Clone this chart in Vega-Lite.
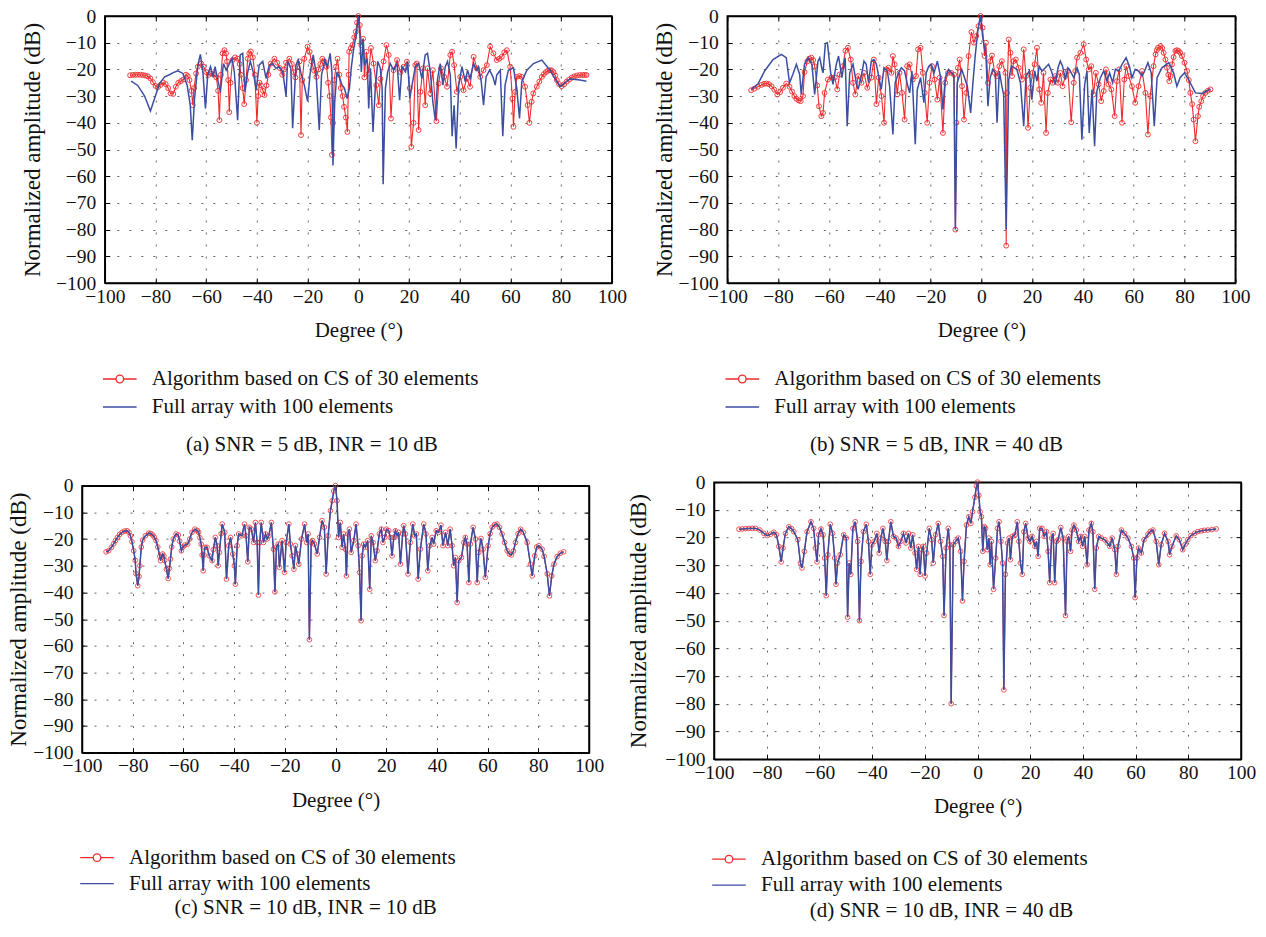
{
"$schema": "https://vega.github.io/schema/vega-lite/v6.json",
"background": "white",
"padding": {"left": 7, "top": 5, "right": 2, "bottom": 2},
"datasets": {
"aR": [{"x":-90,"y":-22.2},{"x":-89,"y":-22.1},{"x":-88,"y":-22},{"x":-87,"y":-22},{"x":-86,"y":-22},{"x":-85,"y":-22.1},{"x":-84,"y":-22.3},{"x":-83,"y":-22.6},{"x":-82,"y":-23.4},{"x":-81,"y":-24.8},{"x":-80,"y":-26.2},{"x":-79,"y":-26.6},{"x":-78,"y":-25.8},{"x":-77,"y":-24.9},{"x":-76,"y":-25.5},{"x":-75,"y":-27},{"x":-74,"y":-29},{"x":-73,"y":-29.2},{"x":-72,"y":-26.5},{"x":-71,"y":-25},{"x":-70,"y":-24.4},{"x":-69,"y":-23.8},{"x":-68,"y":-22},{"x":-67.3,"y":-22.5},{"x":-66.6,"y":-24},{"x":-65.8,"y":-28},{"x":-65.3,"y":-33.4},{"x":-64.8,"y":-27},{"x":-64,"y":-21.5},{"x":-63.3,"y":-19},{"x":-62,"y":-17.8},{"x":-61,"y":-19},{"x":-60,"y":-21},{"x":-59,"y":-22},{"x":-58,"y":-21.5},{"x":-57,"y":-22},{"x":-56,"y":-23},{"x":-55.3,"y":-28},{"x":-54.8,"y":-39},{"x":-54.2,"y":-22},{"x":-53.5,"y":-14},{"x":-52.8,"y":-12.8},{"x":-52.2,"y":-14},{"x":-51.8,"y":-17},{"x":-51.3,"y":-24},{"x":-50.9,"y":-36},{"x":-50.4,"y":-25},{"x":-49.6,"y":-16.5},{"x":-48.6,"y":-15.5},{"x":-47.6,"y":-16},{"x":-46.8,"y":-18},{"x":-46.3,"y":-22},{"x":-45.6,"y":-27},{"x":-45,"y":-33},{"x":-44.3,"y":-24},{"x":-43.6,"y":-16},{"x":-43,"y":-14},{"x":-42.4,"y":-13.3},{"x":-41.6,"y":-15.5},{"x":-40.8,"y":-22},{"x":-40,"y":-40},{"x":-39.5,"y":-30},{"x":-39,"y":-25},{"x":-38.4,"y":-26},{"x":-37.6,"y":-28},{"x":-37,"y":-29.6},{"x":-36.2,"y":-26},{"x":-35.5,"y":-22},{"x":-34.5,"y":-17.8},{"x":-33.1,"y":-16},{"x":-32,"y":-17.5},{"x":-31,"y":-19.5},{"x":-30,"y":-22},{"x":-29.3,"y":-20},{"x":-28.5,"y":-17.5},{"x":-27.2,"y":-16},{"x":-26.2,"y":-18},{"x":-25.6,"y":-21},{"x":-24.8,"y":-23},{"x":-24,"y":-19},{"x":-23.2,"y":-17},{"x":-22.6,"y":-44.6},{"x":-22.1,"y":-24},{"x":-21.3,"y":-16},{"x":-20,"y":-11.5},{"x":-19.2,"y":-13.4},{"x":-18.5,"y":-17},{"x":-17.4,"y":-20.5},{"x":-16.5,"y":-22.8},{"x":-15.7,"y":-20},{"x":-15,"y":-18},{"x":-14.2,"y":-16},{"x":-13.4,"y":-17},{"x":-12.5,"y":-19},{"x":-11.9,"y":-25},{"x":-11.3,"y":-30},{"x":-10.8,"y":-38},{"x":-10.4,"y":-52},{"x":-10,"y":-40},{"x":-9.5,"y":-24},{"x":-8.8,"y":-19},{"x":-8.2,"y":-16},{"x":-7.5,"y":-22},{"x":-6.9,"y":-27},{"x":-6.2,"y":-30},{"x":-5.6,"y":-34},{"x":-4.9,"y":-38},{"x":-4.3,"y":-43.4},{"x":-3.8,"y":-22},{"x":-3.6,"y":-13.4},{"x":-2.9,"y":-12},{"x":-2.3,"y":-10.9},{"x":-1.6,"y":-8},{"x":-1,"y":-5.9},{"x":-0.5,"y":-2.5},{"x":0,"y":0},{"x":0.6,"y":-3.4},{"x":1.2,"y":-10.9},{"x":1.9,"y":-8.5},{"x":2.4,"y":-23},{"x":3.2,"y":-13.4},{"x":4.1,"y":-21.5},{"x":5,"y":-12},{"x":6,"y":-17.8},{"x":7.1,"y":-25.9},{"x":8.1,"y":-33.4},{"x":8.7,"y":-23.5},{"x":10,"y":-17},{"x":11.1,"y":-10.9},{"x":12,"y":-14.6},{"x":12.9,"y":-38.4},{"x":13.9,"y":-20.3},{"x":15.3,"y":-16.5},{"x":16.6,"y":-21},{"x":17.9,"y":-19},{"x":19.2,"y":-17.1},{"x":20.3,"y":-27},{"x":20.9,"y":-49},{"x":21.8,"y":-40},{"x":22.5,"y":-18.4},{"x":23.1,"y":-17.8},{"x":23.8,"y":-42.7},{"x":24.5,"y":-28.4},{"x":25.5,"y":-19.6},{"x":26.4,"y":-33.4},{"x":27.3,"y":-19.6},{"x":28.4,"y":-29},{"x":29.4,"y":-20.3},{"x":30.8,"y":-39.4},{"x":31.7,"y":-25.3},{"x":32.6,"y":-19.6},{"x":33.9,"y":-22.8},{"x":35,"y":-26.5},{"x":36.3,"y":-14.6},{"x":37,"y":-13.4},{"x":37.8,"y":-18.4},{"x":38.9,"y":-28.4},{"x":40.2,"y":-22.8},{"x":41.5,"y":-27.8},{"x":42.8,"y":-23.4},{"x":44.1,"y":-26.5},{"x":45.5,"y":-15.3},{"x":46.8,"y":-19.6},{"x":48.1,"y":-22.8},{"x":49.4,"y":-20.3},{"x":50.7,"y":-18.4},{"x":52,"y":-11.5},{"x":53.3,"y":-14},{"x":54.6,"y":-16.5},{"x":55.6,"y":-16},{"x":56.6,"y":-15.3},{"x":57.6,"y":-13.6},{"x":58.6,"y":-12.8},{"x":59.9,"y":-19},{"x":60.8,"y":-30.9},{"x":61.2,"y":-41.5},{"x":61.9,"y":-28.4},{"x":62.5,"y":-22.8},{"x":63.5,"y":-22.5},{"x":64.5,"y":-22.8},{"x":65.8,"y":-26.5},{"x":66.8,"y":-33.4},{"x":67.5,"y":-40},{"x":68.4,"y":-32.1},{"x":69,"y":-29},{"x":70.4,"y":-26.5},{"x":71.4,"y":-24.6},{"x":72.4,"y":-22.8},{"x":73.2,"y":-21.8},{"x":74,"y":-21},{"x":74.8,"y":-20.5},{"x":75.6,"y":-20.3},{"x":76.3,"y":-20.4},{"x":77,"y":-21},{"x":77.7,"y":-22.3},{"x":78.3,"y":-24},{"x":79.2,"y":-25.5},{"x":80.2,"y":-26.3},{"x":81.2,"y":-25.6},{"x":82.2,"y":-24.6},{"x":83.2,"y":-23.8},{"x":84.2,"y":-23.1},{"x":85.2,"y":-22.6},{"x":86.3,"y":-22.3},{"x":87.4,"y":-22.1},{"x":88.5,"y":-22.1},{"x":89.3,"y":-22.1},{"x":90,"y":-22.1}],
"aB": [{"x":-89.6,"y":-24.4},{"x":-87,"y":-26},{"x":-84.3,"y":-30},{"x":-82,"y":-35.6},{"x":-80.4,"y":-31},{"x":-78.4,"y":-25.3},{"x":-76.4,"y":-22.8},{"x":-74.5,"y":-22},{"x":-73,"y":-21.2},{"x":-71.2,"y":-20.5},{"x":-69.2,"y":-21.5},{"x":-67.5,"y":-25.9},{"x":-66.3,"y":-33.4},{"x":-65.5,"y":-46.5},{"x":-64.6,"y":-31},{"x":-63.3,"y":-18.4},{"x":-62.3,"y":-14.4},{"x":-61.3,"y":-21},{"x":-60.3,"y":-34.6},{"x":-59.4,"y":-22},{"x":-58.3,"y":-19},{"x":-57.3,"y":-22.8},{"x":-56.5,"y":-19},{"x":-55.7,"y":-22.8},{"x":-54.4,"y":-28.4},{"x":-53.2,"y":-17.8},{"x":-52.1,"y":-20.3},{"x":-50.8,"y":-17.8},{"x":-49.8,"y":-15.9},{"x":-48.9,"y":-20.9},{"x":-47.6,"y":-39},{"x":-46.6,"y":-14.6},{"x":-45.6,"y":-14},{"x":-44.7,"y":-28.4},{"x":-43.6,"y":-20.9},{"x":-42.6,"y":-17},{"x":-41.3,"y":-21.5},{"x":-40.3,"y":-27.8},{"x":-39.1,"y":-18.4},{"x":-37.7,"y":-17},{"x":-36.4,"y":-23.4},{"x":-35.1,"y":-18.4},{"x":-33.8,"y":-17.8},{"x":-32.5,"y":-19.6},{"x":-31.2,"y":-19},{"x":-29.8,"y":-20.9},{"x":-28.5,"y":-30},{"x":-27.9,"y":-17},{"x":-26.6,"y":-19.6},{"x":-25.9,"y":-42},{"x":-24.6,"y":-18.4},{"x":-23.7,"y":-16.5},{"x":-22.6,"y":-21.5},{"x":-21.3,"y":-25.9},{"x":-20,"y":-32},{"x":-19,"y":-21.5},{"x":-17.8,"y":-14.6},{"x":-16.7,"y":-20.9},{"x":-15.4,"y":-42.7},{"x":-14.5,"y":-22.1},{"x":-13.2,"y":-16.5},{"x":-12.2,"y":-19},{"x":-11.1,"y":-14},{"x":-10.4,"y":-21},{"x":-10,"y":-56},{"x":-9.3,"y":-32.1},{"x":-8.4,"y":-20.9},{"x":-7.3,"y":-23.4},{"x":-6.4,"y":-25.9},{"x":-5.5,"y":-27},{"x":-4.4,"y":-30.9},{"x":-3.5,"y":-27},{"x":-2.8,"y":-19.6},{"x":-1.8,"y":-12},{"x":-0.8,"y":-7.1},{"x":0,"y":0},{"x":0.6,"y":-7},{"x":1.2,"y":-21},{"x":1.9,"y":-8.4},{"x":2.5,"y":-18.4},{"x":3.5,"y":-16},{"x":4.1,"y":-34.6},{"x":4.8,"y":-19.6},{"x":5.8,"y":-43.4},{"x":6.7,"y":-27},{"x":7.7,"y":-17},{"x":8.7,"y":-19.6},{"x":9.4,"y":-27},{"x":9.8,"y":-63},{"x":10.7,"y":-27},{"x":11.6,"y":-20.9},{"x":12.6,"y":-17.8},{"x":13.9,"y":-20.3},{"x":15.3,"y":-17.8},{"x":16.3,"y":-31.5},{"x":17.2,"y":-19},{"x":18.6,"y":-20.9},{"x":19.5,"y":-17},{"x":20.3,"y":-30.9},{"x":21.2,"y":-25.9},{"x":22.5,"y":-19},{"x":23.8,"y":-17.8},{"x":25.1,"y":-23.4},{"x":26.4,"y":-14.6},{"x":27.3,"y":-14},{"x":28.4,"y":-20.9},{"x":29.4,"y":-32.1},{"x":30.4,"y":-39},{"x":31.3,"y":-23.4},{"x":32.3,"y":-17.8},{"x":33.4,"y":-25.9},{"x":34.3,"y":-19},{"x":35.2,"y":-17},{"x":36.3,"y":-22.1},{"x":37,"y":-45},{"x":37.8,"y":-33.4},{"x":38.6,"y":-49.6},{"x":39.6,"y":-25.9},{"x":40.9,"y":-19},{"x":42.2,"y":-24.6},{"x":43.1,"y":-20.3},{"x":44.1,"y":-23.4},{"x":45.5,"y":-17.8},{"x":46.5,"y":-20.3},{"x":47.4,"y":-19},{"x":48.5,"y":-24.6},{"x":49.4,"y":-33.4},{"x":50.4,"y":-22.8},{"x":51.8,"y":-20.3},{"x":53.1,"y":-22.8},{"x":54,"y":-25.9},{"x":54.6,"y":-22.1},{"x":56,"y":-20.3},{"x":57,"y":-45},{"x":57.9,"y":-25.9},{"x":59.2,"y":-20.3},{"x":61.2,"y":-19.4},{"x":62.5,"y":-27},{"x":63.6,"y":-38.4},{"x":64.5,"y":-24.6},{"x":66.5,"y":-20.3},{"x":69.1,"y":-17.8},{"x":72.4,"y":-16.5},{"x":75.6,"y":-20.3},{"x":78.3,"y":-24.6},{"x":79.6,"y":-26.5},{"x":81.5,"y":-25},{"x":83.5,"y":-23.6},{"x":87.5,"y":-24},{"x":90,"y":-24.4}],
"bR": [{"x":-90.6,"y":-27.8},{"x":-89.3,"y":-27.2},{"x":-88,"y":-26.5},{"x":-86.5,"y":-25.8},{"x":-85.5,"y":-25.4},{"x":-84.6,"y":-25.3},{"x":-83.6,"y":-25.5},{"x":-82.6,"y":-26.3},{"x":-81.5,"y":-27.6},{"x":-80.3,"y":-29.4},{"x":-79.2,"y":-28.5},{"x":-78.1,"y":-26.9},{"x":-76.8,"y":-25.3},{"x":-75.5,"y":-26.5},{"x":-74.5,"y":-28.3},{"x":-73.6,"y":-30},{"x":-72.8,"y":-31},{"x":-71.9,"y":-31.6},{"x":-71.1,"y":-31.9},{"x":-70.2,"y":-30},{"x":-69.6,"y":-21},{"x":-68.5,"y":-17},{"x":-67.7,"y":-16},{"x":-66.9,"y":-15.6},{"x":-66.2,"y":-16.5},{"x":-65.6,"y":-18.8},{"x":-64.6,"y":-26},{"x":-63.9,"y":-33.8},{"x":-63,"y":-37.5},{"x":-62.3,"y":-36.3},{"x":-61.7,"y":-28.8},{"x":-60.4,"y":-23.8},{"x":-59,"y":-23},{"x":-57.7,"y":-23},{"x":-56.7,"y":-27.5},{"x":-55.8,"y":-21.9},{"x":-54.5,"y":-18.8},{"x":-53.5,"y":-13},{"x":-52.5,"y":-11.9},{"x":-51.4,"y":-16.3},{"x":-50.5,"y":-25},{"x":-49.6,"y":-29.4},{"x":-48.5,"y":-22.5},{"x":-47.2,"y":-25},{"x":-46.2,"y":-21.3},{"x":-44.9,"y":-26.9},{"x":-43.3,"y":-23.1},{"x":-42.3,"y":-16.3},{"x":-41.3,"y":-33},{"x":-40.4,"y":-23.1},{"x":-39.3,"y":-30},{"x":-38.3,"y":-40},{"x":-37.4,"y":-20},{"x":-36.5,"y":-19.4},{"x":-35.4,"y":-21.3},{"x":-34.8,"y":-15},{"x":-34.1,"y":-18.1},{"x":-33.1,"y":-29.4},{"x":-32.2,"y":-21.3},{"x":-31.2,"y":-28.8},{"x":-30.2,"y":-38.8},{"x":-29.2,"y":-18.8},{"x":-28.2,"y":-18.1},{"x":-27,"y":-23.8},{"x":-25.7,"y":-22.5},{"x":-24.9,"y":-12.5},{"x":-23.9,"y":-11.9},{"x":-23,"y":-21.3},{"x":-22.3,"y":-28.8},{"x":-21.3,"y":-40},{"x":-20.4,"y":-25},{"x":-19.4,"y":-18.8},{"x":-18.4,"y":-23.8},{"x":-17.3,"y":-31.3},{"x":-16.4,"y":-23.1},{"x":-15.1,"y":-43.8},{"x":-14.2,"y":-25},{"x":-13.1,"y":-21.3},{"x":-11.8,"y":-21.3},{"x":-10.7,"y":-22},{"x":-10.2,"y":-80},{"x":-9.8,"y":-40},{"x":-9.2,"y":-19.4},{"x":-8.5,"y":-16.3},{"x":-7.6,"y":-26.3},{"x":-6.8,"y":-38.8},{"x":-5.9,"y":-28.8},{"x":-5,"y":-15},{"x":-3.9,"y":-6},{"x":-2.9,"y":-10},{"x":-2,"y":-7.5},{"x":-1.1,"y":-3.8},{"x":-0.3,"y":0},{"x":0.5,"y":-4.4},{"x":1.3,"y":-15},{"x":1.8,"y":-10},{"x":2.6,"y":-25},{"x":3.5,"y":-16.9},{"x":4.2,"y":-14.8},{"x":5.3,"y":-21.3},{"x":6.2,"y":-22.5},{"x":7.1,"y":-18.8},{"x":8.1,"y":-16.9},{"x":9.5,"y":-21.3},{"x":9.8,"y":-86},{"x":10.1,"y":-28.8},{"x":10.8,"y":-8.8},{"x":11.5,"y":-13.8},{"x":12.1,"y":-22.5},{"x":12.7,"y":-16.9},{"x":13.6,"y":-16.3},{"x":14.7,"y":-19.4},{"x":16,"y":-23.8},{"x":16.7,"y":-12.5},{"x":17.6,"y":-22.5},{"x":18.4,"y":-41.9},{"x":19.3,"y":-26.9},{"x":20.2,"y":-21.3},{"x":21,"y":-18.1},{"x":21.9,"y":-11.9},{"x":22.8,"y":-27.5},{"x":23.6,"y":-32.5},{"x":24.5,"y":-21.3},{"x":25.5,"y":-43.8},{"x":26.2,"y":-28.8},{"x":27.2,"y":-23.8},{"x":28.1,"y":-25},{"x":29.1,"y":-22.5},{"x":30.2,"y":-25},{"x":31.1,"y":-21.3},{"x":32,"y":-26.3},{"x":33.1,"y":-22.5},{"x":34.1,"y":-20.6},{"x":35.4,"y":-39.8},{"x":36.4,"y":-25},{"x":37,"y":-20.6},{"x":37.7,"y":-15.6},{"x":39,"y":-13.8},{"x":40.3,"y":-10.6},{"x":41.3,"y":-16.3},{"x":42.3,"y":-20},{"x":43.3,"y":-18.8},{"x":44.2,"y":-29.4},{"x":45.1,"y":-21.3},{"x":46.2,"y":-25.6},{"x":47.2,"y":-31.9},{"x":48.2,"y":-28.1},{"x":49.1,"y":-20},{"x":50.1,"y":-25.6},{"x":51.2,"y":-27.5},{"x":52.5,"y":-37.5},{"x":53.4,"y":-24.4},{"x":54.3,"y":-20},{"x":55.4,"y":-40},{"x":56.3,"y":-23.8},{"x":57.1,"y":-18.8},{"x":58,"y":-22.5},{"x":59.3,"y":-26.3},{"x":60.6,"y":-32.5},{"x":61.9,"y":-26.3},{"x":63.3,"y":-20.6},{"x":64.6,"y":-28.8},{"x":65.6,"y":-44.4},{"x":66.5,"y":-30},{"x":67.8,"y":-18.8},{"x":68.6,"y":-14.4},{"x":69.1,"y":-12.8},{"x":69.6,"y":-11.9},{"x":70.5,"y":-11.3},{"x":71.2,"y":-12},{"x":71.8,"y":-13.8},{"x":72.5,"y":-16.3},{"x":73.1,"y":-19.4},{"x":73.6,"y":-22},{"x":74,"y":-24.4},{"x":74.5,"y":-22.5},{"x":75.1,"y":-18.1},{"x":75.7,"y":-15.4},{"x":76.4,"y":-13.1},{"x":77,"y":-12.8},{"x":77.7,"y":-13.1},{"x":78.3,"y":-13.8},{"x":79,"y":-15},{"x":80,"y":-17.5},{"x":81,"y":-20.6},{"x":81.7,"y":-24},{"x":82.3,"y":-28.8},{"x":83,"y":-33},{"x":83.6,"y":-38.8},{"x":84.3,"y":-46.9},{"x":85.3,"y":-37.5},{"x":85.8,"y":-34},{"x":86.6,"y":-31.9},{"x":87.3,"y":-30},{"x":88.2,"y":-28.8},{"x":89.2,"y":-28},{"x":90.2,"y":-27.5}],
"bB": [{"x":-90.6,"y":-27.5},{"x":-88,"y":-25.6},{"x":-85.3,"y":-20.6},{"x":-82,"y":-16.3},{"x":-78.7,"y":-14.4},{"x":-76.8,"y":-15.6},{"x":-75.5,"y":-25},{"x":-74.2,"y":-21.9},{"x":-72.8,"y":-18.1},{"x":-71.5,"y":-21.9},{"x":-70.9,"y":-29.4},{"x":-69.6,"y":-18.1},{"x":-68.2,"y":-15.6},{"x":-66.7,"y":-18.1},{"x":-65.6,"y":-29.4},{"x":-64.3,"y":-16.9},{"x":-63.6,"y":-15.6},{"x":-62.7,"y":-20},{"x":-62.3,"y":-21.3},{"x":-61.4,"y":-10.3},{"x":-60.6,"y":-10},{"x":-59.3,"y":-21.3},{"x":-58.4,"y":-25.6},{"x":-57.1,"y":-18.1},{"x":-56.2,"y":-15},{"x":-54.9,"y":-23.1},{"x":-53.6,"y":-15.6},{"x":-52.8,"y":-41.3},{"x":-51.8,"y":-21.3},{"x":-50.5,"y":-18.1},{"x":-49.2,"y":-25},{"x":-48.5,"y":-27.5},{"x":-47.2,"y":-22.5},{"x":-46.2,"y":-16.9},{"x":-45.3,"y":-18.1},{"x":-44.4,"y":-25},{"x":-43.3,"y":-16.9},{"x":-42.3,"y":-16.3},{"x":-41.3,"y":-18.1},{"x":-40.3,"y":-23.1},{"x":-39.4,"y":-27.5},{"x":-38.3,"y":-19.4},{"x":-37,"y":-20.6},{"x":-36.1,"y":-26.3},{"x":-34.8,"y":-44.4},{"x":-33.9,"y":-25},{"x":-32.8,"y":-21.9},{"x":-31.5,"y":-19.4},{"x":-30.2,"y":-20.6},{"x":-29.1,"y":-25.6},{"x":-28.2,"y":-28.8},{"x":-27.3,"y":-20.6},{"x":-26,"y":-48},{"x":-25.2,"y":-27.5},{"x":-23.9,"y":-23.1},{"x":-22.6,"y":-32.5},{"x":-21.7,"y":-21.3},{"x":-20.7,"y":-18.8},{"x":-19.7,"y":-18.1},{"x":-18.6,"y":-21.3},{"x":-17.3,"y":-16.9},{"x":-16,"y":-23.1},{"x":-15.1,"y":-35},{"x":-14.2,"y":-23.1},{"x":-12.9,"y":-20},{"x":-11.6,"y":-21.3},{"x":-10.8,"y":-22.5},{"x":-10.2,"y":-80},{"x":-9.5,"y":-25},{"x":-8.6,"y":-22.5},{"x":-7.7,"y":-20},{"x":-6.6,"y":-23.1},{"x":-5.5,"y":-26.3},{"x":-4.2,"y":-36.3},{"x":-3.3,"y":-25},{"x":-2.4,"y":-15},{"x":-1.3,"y":-5},{"x":-0.3,"y":0},{"x":0.5,"y":-7.5},{"x":1.3,"y":-12.5},{"x":1.8,"y":-13.8},{"x":2.6,"y":-33.8},{"x":3.5,"y":-23.1},{"x":4.5,"y":-20},{"x":5.5,"y":-21.3},{"x":6.2,"y":-40},{"x":7.1,"y":-20.6},{"x":8.1,"y":-26.3},{"x":8.8,"y":-29.4},{"x":9.8,"y":-80},{"x":10.8,"y":-23.8},{"x":11.8,"y":-18.8},{"x":13.1,"y":-19.4},{"x":14,"y":-20},{"x":15.4,"y":-25},{"x":16.7,"y":-41.3},{"x":17.6,"y":-22.5},{"x":18.9,"y":-20.6},{"x":19.9,"y":-31.3},{"x":21,"y":-20.6},{"x":21.9,"y":-24.4},{"x":22.8,"y":-18.8},{"x":23.9,"y":-20.6},{"x":25.2,"y":-19.4},{"x":26.5,"y":-18.1},{"x":27.6,"y":-20.6},{"x":29.1,"y":-25.6},{"x":30.2,"y":-19.4},{"x":31.1,"y":-16.9},{"x":32,"y":-18.8},{"x":33.1,"y":-23.8},{"x":34.1,"y":-19.4},{"x":35,"y":-20.6},{"x":36.4,"y":-23.1},{"x":37.7,"y":-19.4},{"x":38.6,"y":-21.9},{"x":39.6,"y":-46.3},{"x":40.7,"y":-25.6},{"x":41.6,"y":-20.6},{"x":42.5,"y":-43.8},{"x":43.6,"y":-27.5},{"x":44.6,"y":-48.8},{"x":45.5,"y":-28.1},{"x":46.9,"y":-23.1},{"x":48.2,"y":-20.6},{"x":49.5,"y":-24.4},{"x":50.5,"y":-21.3},{"x":51.7,"y":-25},{"x":52.8,"y":-20},{"x":54.1,"y":-20.6},{"x":55.4,"y":-18.1},{"x":57,"y":-15.6},{"x":58.3,"y":-18.8},{"x":59.3,"y":-23.1},{"x":60.6,"y":-20},{"x":61.9,"y":-20.6},{"x":63.3,"y":-22.5},{"x":64.3,"y":-20.6},{"x":65.6,"y":-17.5},{"x":66.9,"y":-21.3},{"x":68.1,"y":-41.3},{"x":69.2,"y":-23.1},{"x":71.1,"y":-19.4},{"x":73.8,"y":-17.5},{"x":75.7,"y":-21.3},{"x":77,"y":-26.3},{"x":78.3,"y":-23.1},{"x":80,"y":-21.3},{"x":81.6,"y":-23.8},{"x":84.3,"y":-28.8},{"x":86.9,"y":-29},{"x":90.2,"y":-27.3}],
"c": [{"x":-90.5,"y":-24.8},{"x":-89.5,"y":-24.4},{"x":-88.4,"y":-23.1},{"x":-87.5,"y":-21.8},{"x":-86.8,"y":-20.6},{"x":-86,"y":-19.4},{"x":-85.2,"y":-18.3},{"x":-84.2,"y":-17.5},{"x":-83.2,"y":-17},{"x":-82.2,"y":-16.9},{"x":-81.5,"y":-17.5},{"x":-80.9,"y":-18.8},{"x":-80.3,"y":-21},{"x":-79.6,"y":-24.4},{"x":-79,"y":-28},{"x":-78.7,"y":-33},{"x":-78,"y":-37.5},{"x":-77.5,"y":-34},{"x":-77.2,"y":-30},{"x":-76.6,"y":-23},{"x":-76.1,"y":-20.4},{"x":-75,"y":-18.8},{"x":-73.7,"y":-17.8},{"x":-72.9,"y":-17.9},{"x":-72.1,"y":-18.5},{"x":-71.5,"y":-19.3},{"x":-70.8,"y":-20.6},{"x":-70.1,"y":-23},{"x":-69.3,"y":-26.5},{"x":-69,"y":-28.1},{"x":-68.2,"y":-25.6},{"x":-67.7,"y":-26.4},{"x":-67.4,"y":-28},{"x":-66.7,"y":-31.3},{"x":-66,"y":-34.8},{"x":-65.5,"y":-31},{"x":-65.1,"y":-27.5},{"x":-64.6,"y":-23},{"x":-64,"y":-20},{"x":-62.9,"y":-18.1},{"x":-62,"y":-18.5},{"x":-61.5,"y":-20.8},{"x":-60.8,"y":-24.4},{"x":-60.2,"y":-23},{"x":-59.5,"y":-22.3},{"x":-58.3,"y":-21.9},{"x":-57.5,"y":-20},{"x":-56.6,"y":-17.5},{"x":-55.5,"y":-16.3},{"x":-54.5,"y":-16.8},{"x":-54,"y":-17.5},{"x":-53.5,"y":-19.5},{"x":-53,"y":-21.9},{"x":-52.6,"y":-26},{"x":-52.2,"y":-31.9},{"x":-51.9,"y":-26},{"x":-51.5,"y":-23.1},{"x":-50.7,"y":-23.1},{"x":-49.8,"y":-26.3},{"x":-48.7,"y":-28.1},{"x":-48.2,"y":-24},{"x":-47.4,"y":-19.4},{"x":-46.7,"y":-22.5},{"x":-46.3,"y":-30},{"x":-45.8,"y":-25},{"x":-45.1,"y":-18},{"x":-44.7,"y":-14.4},{"x":-43.7,"y":-17.5},{"x":-43,"y":-35},{"x":-42.1,"y":-22.5},{"x":-41.4,"y":-19.4},{"x":-40.5,"y":-25.6},{"x":-39.9,"y":-30},{"x":-39.5,"y":-36.9},{"x":-38.8,"y":-22.5},{"x":-38.2,"y":-18.1},{"x":-36.9,"y":-18.8},{"x":-35.9,"y":-14.4},{"x":-35.3,"y":-18.8},{"x":-34.6,"y":-28.5},{"x":-34,"y":-15.6},{"x":-33.2,"y":-16.3},{"x":-32.3,"y":-21.3},{"x":-31.6,"y":-13.8},{"x":-30.9,"y":-21.3},{"x":-30.4,"y":-41},{"x":-29.9,"y":-21.3},{"x":-29.3,"y":-13.8},{"x":-28.4,"y":-21.3},{"x":-27.6,"y":-18.1},{"x":-27,"y":-20},{"x":-26.3,"y":-18.8},{"x":-25.3,"y":-13.8},{"x":-24.5,"y":-23.8},{"x":-23.9,"y":-39.8},{"x":-23.3,"y":-23.1},{"x":-22.6,"y":-21.9},{"x":-22.1,"y":-30.6},{"x":-21.1,"y":-20.6},{"x":-20.1,"y":-32.5},{"x":-19.5,"y":-21.3},{"x":-18.4,"y":-14.4},{"x":-17.8,"y":-21.9},{"x":-17.1,"y":-26.3},{"x":-16.4,"y":-31.3},{"x":-15.8,"y":-22.5},{"x":-15.1,"y":-25.6},{"x":-14.5,"y":-29.4},{"x":-13.4,"y":-20},{"x":-12.2,"y":-14.4},{"x":-11.4,"y":-21.3},{"x":-10.8,"y":-18.1},{"x":-10.3,"y":-57.7},{"x":-9.6,"y":-21.3},{"x":-9,"y":-20.6},{"x":-8.3,"y":-21.9},{"x":-7.2,"y":-25.6},{"x":-6.3,"y":-19.4},{"x":-5.3,"y":-13.1},{"x":-4.4,"y":-15.6},{"x":-3.7,"y":-33.1},{"x":-2.9,"y":-18.8},{"x":-2,"y":-9.4},{"x":-1.3,"y":-5.6},{"x":-0.7,"y":-2},{"x":0,"y":0},{"x":0.6,"y":-5.6},{"x":1.2,"y":-19.4},{"x":1.9,"y":-13.8},{"x":2.6,"y":-23.1},{"x":3.2,"y":-18.1},{"x":3.9,"y":-23.8},{"x":4.3,"y":-33.8},{"x":4.9,"y":-18.1},{"x":5.5,"y":-16.3},{"x":6.2,"y":-25},{"x":7.2,"y":-20.6},{"x":8.1,"y":-14.4},{"x":8.9,"y":-22.5},{"x":9.5,"y":-32.5},{"x":10.1,"y":-50.6},{"x":10.5,"y":-26.3},{"x":11.1,"y":-21.9},{"x":11.8,"y":-23.1},{"x":12.7,"y":-20.6},{"x":13.5,"y":-38.8},{"x":14.1,"y":-18.8},{"x":14.8,"y":-21.3},{"x":15.7,"y":-28.1},{"x":16.4,"y":-24.4},{"x":17.3,"y":-18.1},{"x":18.1,"y":-16.3},{"x":18.7,"y":-21.3},{"x":19.4,"y":-19.4},{"x":20.1,"y":-16.3},{"x":21,"y":-16.9},{"x":21.6,"y":-19.4},{"x":22.3,"y":-26.3},{"x":23,"y":-19.4},{"x":23.6,"y":-16.9},{"x":24.3,"y":-18.8},{"x":24.9,"y":-17.5},{"x":25.6,"y":-29.4},{"x":26.5,"y":-18.1},{"x":26.9,"y":-15},{"x":27.6,"y":-18.1},{"x":28.6,"y":-33.1},{"x":29.5,"y":-21.3},{"x":30.5,"y":-14.4},{"x":31.2,"y":-18.8},{"x":31.9,"y":-18.1},{"x":32.6,"y":-35},{"x":33.5,"y":-23.8},{"x":34.8,"y":-14.4},{"x":35.7,"y":-18.1},{"x":36.4,"y":-31.9},{"x":37.2,"y":-22.5},{"x":38.1,"y":-19.4},{"x":38.7,"y":-21.9},{"x":39.7,"y":-16.9},{"x":40.7,"y":-17.5},{"x":41.6,"y":-14.8},{"x":42.4,"y":-22.5},{"x":43.4,"y":-17.5},{"x":44.3,"y":-22.5},{"x":45.2,"y":-16.3},{"x":46,"y":-22.5},{"x":46.6,"y":-30},{"x":47.3,"y":-26.9},{"x":48,"y":-43.8},{"x":48.6,"y":-28.1},{"x":49.7,"y":-26.9},{"x":50.6,"y":-21.3},{"x":51.2,"y":-19.4},{"x":51.9,"y":-21.9},{"x":52.6,"y":-36.3},{"x":53.2,"y":-21.9},{"x":54.3,"y":-15.6},{"x":55.2,"y":-20},{"x":55.9,"y":-36.3},{"x":56.5,"y":-25},{"x":57.4,"y":-19.8},{"x":58.2,"y":-23.8},{"x":59.1,"y":-34.4},{"x":60.2,"y":-22.5},{"x":61,"y":-18},{"x":61.8,"y":-15.6},{"x":62.8,"y":-14.6},{"x":63.7,"y":-14.4},{"x":64.7,"y":-15.6},{"x":65.7,"y":-18.1},{"x":66.7,"y":-21.3},{"x":67.7,"y":-24.4},{"x":68.6,"y":-25.6},{"x":69.4,"y":-26},{"x":70.2,"y":-24.5},{"x":71,"y":-21.3},{"x":72,"y":-18},{"x":73,"y":-16.3},{"x":74.1,"y":-17.5},{"x":75.6,"y":-21.3},{"x":76.9,"y":-29.4},{"x":77.6,"y":-33.8},{"x":78.6,"y":-26.3},{"x":79.4,"y":-23},{"x":80.2,"y":-22.5},{"x":81.5,"y":-23.8},{"x":82.3,"y":-26.5},{"x":83.5,"y":-33},{"x":84.4,"y":-41.3},{"x":85.3,"y":-33.8},{"x":86.2,"y":-29.4},{"x":87.4,"y":-26.6},{"x":88.7,"y":-25.3},{"x":90,"y":-24.8}],
"d": [{"x":-90.5,"y":-17},{"x":-89.3,"y":-16.9},{"x":-88,"y":-16.8},{"x":-86.8,"y":-16.7},{"x":-85.5,"y":-16.7},{"x":-84.2,"y":-16.7},{"x":-82.6,"y":-17.3},{"x":-81.1,"y":-18.5},{"x":-79.8,"y":-19.3},{"x":-78.5,"y":-18.8},{"x":-77.3,"y":-18.1},{"x":-76.3,"y":-19},{"x":-75.4,"y":-23.2},{"x":-74.5,"y":-28.8},{"x":-73.8,"y":-23.8},{"x":-72.9,"y":-18.5},{"x":-71.6,"y":-16.1},{"x":-70.6,"y":-16.8},{"x":-69.7,"y":-17.9},{"x":-68.2,"y":-20.8},{"x":-67.2,"y":-29.2},{"x":-66.6,"y":-31},{"x":-65.7,"y":-25},{"x":-64.7,"y":-17.9},{"x":-63.2,"y":-14.3},{"x":-62.2,"y":-16.7},{"x":-61.5,"y":-23.8},{"x":-60.9,"y":-28.8},{"x":-60.3,"y":-19},{"x":-59.4,"y":-16.9},{"x":-58.6,"y":-19},{"x":-58,"y":-27.4},{"x":-57.4,"y":-41},{"x":-56.8,"y":-26.2},{"x":-55.9,"y":-15.2},{"x":-55,"y":-18.5},{"x":-54.2,"y":-27.4},{"x":-53.7,"y":-36.9},{"x":-53.1,"y":-29.2},{"x":-52.1,"y":-26.2},{"x":-50.8,"y":-19},{"x":-49.8,"y":-20.2},{"x":-49.3,"y":-48.8},{"x":-48.7,"y":-29.2},{"x":-48.1,"y":-33.3},{"x":-47.3,"y":-16.7},{"x":-46.4,"y":-14.3},{"x":-45.5,"y":-21.4},{"x":-44.8,"y":-50},{"x":-44.2,"y":-28.6},{"x":-43.3,"y":-17.9},{"x":-42.2,"y":-15.2},{"x":-41.4,"y":-21.4},{"x":-40.7,"y":-33.3},{"x":-40.1,"y":-22.6},{"x":-39.2,"y":-21.4},{"x":-38.2,"y":-18.5},{"x":-37.3,"y":-25.6},{"x":-36.7,"y":-20.2},{"x":-35.9,"y":-16.7},{"x":-35,"y":-21.4},{"x":-34.4,"y":-28.3},{"x":-33.8,"y":-21.4},{"x":-32.9,"y":-14.3},{"x":-31.9,"y":-19.6},{"x":-30.9,"y":-20.2},{"x":-30,"y":-23.2},{"x":-29.1,"y":-21.4},{"x":-28.1,"y":-18.5},{"x":-27.1,"y":-22},{"x":-26.2,"y":-18.5},{"x":-25.3,"y":-23.8},{"x":-24.6,"y":-19},{"x":-23.7,"y":-25.6},{"x":-23.1,"y":-31.5},{"x":-22.4,"y":-23.2},{"x":-21.8,"y":-33.3},{"x":-21.2,"y":-24.4},{"x":-20.6,"y":-23.2},{"x":-19.9,"y":-33.9},{"x":-19.3,"y":-25.6},{"x":-18.3,"y":-16.7},{"x":-17.4,"y":-20.8},{"x":-16.8,"y":-29.2},{"x":-15.9,"y":-19},{"x":-14.9,"y":-14.9},{"x":-14,"y":-21.4},{"x":-13.2,"y":-26.8},{"x":-12.7,"y":-48.2},{"x":-11.9,"y":-23.8},{"x":-11.1,"y":-16.7},{"x":-10.5,"y":-22.6},{"x":-10,"y":-80},{"x":-9.2,"y":-22.6},{"x":-8.3,"y":-21.4},{"x":-7.3,"y":-20.2},{"x":-6.4,"y":-25},{"x":-5.7,"y":-42.9},{"x":-5.1,"y":-28.6},{"x":-4.2,"y":-15.5},{"x":-3.3,"y":-12.5},{"x":-2.5,"y":-14.9},{"x":-1.9,"y":-10.7},{"x":-1,"y":-5.5},{"x":-0.4,"y":-1.5},{"x":0,"y":0},{"x":0.5,"y":-4.8},{"x":1,"y":-10.7},{"x":1.5,"y":-12.5},{"x":2,"y":-25},{"x":2.6,"y":-16.1},{"x":3.1,"y":-16.7},{"x":3.7,"y":-24.4},{"x":4.3,"y":-20.2},{"x":4.8,"y":-29.8},{"x":5.3,"y":-21.4},{"x":6.1,"y":-38.7},{"x":6.9,"y":-27.4},{"x":7.6,"y":-16.7},{"x":8.2,"y":-14.3},{"x":8.9,"y":-21.4},{"x":9.5,"y":-29.2},{"x":10,"y":-75},{"x":10.6,"y":-33.3},{"x":11.4,"y":-22},{"x":12,"y":-20.2},{"x":12.5,"y":-28},{"x":13.2,"y":-19.6},{"x":14.2,"y":-19},{"x":15.1,"y":-14.3},{"x":15.7,"y":-21.4},{"x":16.3,"y":-29.2},{"x":17,"y":-33.3},{"x":17.6,"y":-17.9},{"x":18.3,"y":-14.9},{"x":19.2,"y":-20.2},{"x":19.9,"y":-21.4},{"x":20.7,"y":-19.6},{"x":21.8,"y":-23.2},{"x":22.4,"y":-21.4},{"x":23,"y":-26.8},{"x":23.6,"y":-16.7},{"x":24.5,"y":-16.7},{"x":25.3,"y":-19.6},{"x":26.2,"y":-17.9},{"x":26.8,"y":-25},{"x":27.4,"y":-36.3},{"x":28.1,"y":-20.2},{"x":28.7,"y":-18.5},{"x":29.3,"y":-36.3},{"x":30,"y":-21.4},{"x":30.6,"y":-20.8},{"x":31.6,"y":-16.4},{"x":32.5,"y":-20.2},{"x":33.4,"y":-48.2},{"x":34,"y":-21.4},{"x":34.6,"y":-19.6},{"x":35.3,"y":-25},{"x":35.9,"y":-17.3},{"x":36.6,"y":-15.5},{"x":37.5,"y":-17.3},{"x":38.4,"y":-21.4},{"x":39.2,"y":-19.6},{"x":39.9,"y":-23.2},{"x":40.7,"y":-19.6},{"x":41.6,"y":-29.8},{"x":42.3,"y":-17.3},{"x":43.2,"y":-14.9},{"x":43.8,"y":-17.9},{"x":44.5,"y":-38.7},{"x":45.1,"y":-23.8},{"x":46,"y":-19.6},{"x":47,"y":-20.2},{"x":48.3,"y":-20.8},{"x":49.3,"y":-22},{"x":50.2,"y":-23.2},{"x":51.1,"y":-20.2},{"x":52.1,"y":-24.4},{"x":52.7,"y":-33.3},{"x":53.3,"y":-23.2},{"x":54.6,"y":-17.3},{"x":55.8,"y":-18.5},{"x":57.1,"y":-20.2},{"x":58.4,"y":-23.2},{"x":59.3,"y":-27.4},{"x":59.8,"y":-41.7},{"x":60.5,"y":-27.4},{"x":61.1,"y":-23.8},{"x":62.2,"y":-25.6},{"x":63.2,"y":-20.8},{"x":64.7,"y":-18.8},{"x":65.6,"y":-17.8},{"x":66.6,"y":-17.3},{"x":67.8,"y":-21.4},{"x":68.8,"y":-29.8},{"x":69.7,"y":-22.6},{"x":71,"y":-18.5},{"x":72.3,"y":-21.4},{"x":72.9,"y":-26.2},{"x":73.8,"y":-23.2},{"x":75.4,"y":-19.4},{"x":76.6,"y":-20.8},{"x":77.9,"y":-24.4},{"x":78.8,"y":-22.5},{"x":79.8,"y":-20.8},{"x":81,"y":-19.3},{"x":82.4,"y":-18.5},{"x":83.6,"y":-17.9},{"x":84.9,"y":-17.6},{"x":86.1,"y":-17.4},{"x":87.4,"y":-17.3},{"x":89,"y":-17.1},{"x":90.6,"y":-16.9}]
},
"vconcat": [
{"hconcat": [
{"width": 1, "height": 1, "data": {"values": []}, "mark": "point", "view": {"stroke": null}},
{"hconcat": [
{"width": 507, "height": 267,
 "title": {"text": "(a)  SNR = 5 dB, INR = 10 dB", "orient": "bottom", "anchor": "middle", "frame": "bounds", "offset": 17, "dx": -12},
 "layer": [
  {"data": {"name": "aR"}, "mark": {"type": "line", "strokeWidth": 1.1},
   "encoding": {
    "x": {"field": "x", "type": "quantitative", "scale": {"domain": [-100, 100], "nice": false}, "axis": {"values": [-100,-80,-60,-40,-20,0,20,40,60,80,100], "grid": true, "title": "Degree (°)", "labelPadding": 9, "titlePadding": 14, "labelFlush": false, "labelOverlap": false}},
    "y": {"field": "y", "type": "quantitative", "scale": {"domain": [-100, 0], "nice": false}, "axis": {"values": [0,-10,-20,-30,-40,-50,-60,-70,-80,-90,-100], "grid": true, "title": "Normalized amplitude (dB)", "titleFontSize": 23, "labelPadding": 14, "titlePadding": 11.3, "labelOverlap": false}},
    "color": {"datum": "Algorithm based on CS of 30 elements", "scale": {"domain": ["Algorithm based on CS of 30 elements", "Full array with 100 elements"], "range": ["#ee2a2c", "#3b4ea2"]},
     "legend": {"title": null, "orient": "bottom", "direction": "vertical", "offset": 23, "labelLimit": 600, "labelFontSize": 21, "labelFont": "Liberation Serif", "labelColor": "#111", "symbolSize": 784, "rowPadding": 3, "labelOffset": 17, "padding": 0,
      "encode": {"symbols": {"update": {"shape": {"signal": "datum.value === 'Full array with 100 elements' ? 'M-1.2,0H1.2' : 'M-1.2,0H-0.27M0.27,0H1.2M0.27,0A0.27,0.27,0,1,1,-0.27,0A0.27,0.27,0,1,1,0.27,0'"}, "fill": {"value": "white"}, "strokeWidth": {"value": 1.3}}}}}}}},
  {"data": {"name": "aR"}, "mark": {"type": "point", "filled": false, "size": 24, "strokeWidth": 1, "opacity": 0.9},
   "encoding": {"x": {"field": "x", "type": "quantitative", "axis": null}, "y": {"field": "y", "type": "quantitative", "axis": null}, "color": {"datum": "Algorithm based on CS of 30 elements"}}},
  {"data": {"name": "aB"}, "mark": {"type": "line", "strokeWidth": 1.5},
   "encoding": {"x": {"field": "x", "type": "quantitative", "axis": {"orient": "top", "values": [-100,-80,-60,-40,-20,0,20,40,60,80,100], "labels": false, "title": null, "grid": false}}, "y": {"field": "y", "type": "quantitative", "axis": {"orient": "right", "values": [0,-10,-20,-30,-40,-50,-60,-70,-80,-90,-100], "labels": false, "title": null, "grid": false}}, "color": {"datum": "Full array with 100 elements"}}}
 ],
 "resolve": {"axis": {"x": "independent", "y": "independent"}}},
{"width": 508, "height": 267,
 "title": {"text": "(b)  SNR = 5 dB, INR = 40 dB", "orient": "bottom", "anchor": "middle", "frame": "bounds", "offset": 17, "dx": -15},
 "layer": [
  {"data": {"name": "bR"}, "mark": {"type": "line", "strokeWidth": 1.1},
   "encoding": {
    "x": {"field": "x", "type": "quantitative", "scale": {"domain": [-100, 100], "nice": false}, "axis": {"values": [-100,-80,-60,-40,-20,0,20,40,60,80,100], "grid": true, "title": "Degree (°)", "labelPadding": 9, "titlePadding": 14, "labelFlush": false, "labelOverlap": false}},
    "y": {"field": "y", "type": "quantitative", "scale": {"domain": [-100, 0], "nice": false}, "axis": {"values": [0,-10,-20,-30,-40,-50,-60,-70,-80,-90,-100], "grid": true, "title": "Normalized amplitude (dB)", "titleFontSize": 23, "labelPadding": 14, "titlePadding": 2, "labelOverlap": false}},
    "color": {"datum": "Algorithm based on CS of 30 elements", "scale": {"domain": ["Algorithm based on CS of 30 elements", "Full array with 100 elements"], "range": ["#ee2a2c", "#3b4ea2"]},
     "legend": {"title": null, "orient": "bottom", "direction": "vertical", "offset": 23, "labelLimit": 600, "labelFontSize": 21, "labelFont": "Liberation Serif", "labelColor": "#111", "symbolSize": 784, "rowPadding": 3, "labelOffset": 17, "padding": 0,
      "encode": {"symbols": {"update": {"shape": {"signal": "datum.value === 'Full array with 100 elements' ? 'M-1.2,0H1.2' : 'M-1.2,0H-0.27M0.27,0H1.2M0.27,0A0.27,0.27,0,1,1,-0.27,0A0.27,0.27,0,1,1,0.27,0'"}, "fill": {"value": "white"}, "strokeWidth": {"value": 1.3}}}}}}}},
  {"data": {"name": "bR"}, "mark": {"type": "point", "filled": false, "size": 24, "strokeWidth": 1, "opacity": 0.9},
   "encoding": {"x": {"field": "x", "type": "quantitative", "axis": null}, "y": {"field": "y", "type": "quantitative", "axis": null}, "color": {"datum": "Algorithm based on CS of 30 elements"}}},
  {"data": {"name": "bB"}, "mark": {"type": "line", "strokeWidth": 1.5},
   "encoding": {"x": {"field": "x", "type": "quantitative", "axis": {"orient": "top", "values": [-100,-80,-60,-40,-20,0,20,40,60,80,100], "labels": false, "title": null, "grid": false}}, "y": {"field": "y", "type": "quantitative", "axis": {"orient": "right", "values": [0,-10,-20,-30,-40,-50,-60,-70,-80,-90,-100], "labels": false, "title": null, "grid": false}}, "color": {"datum": "Full array with 100 elements"}}}
 ],
 "resolve": {"axis": {"x": "independent", "y": "independent"}}}
], "spacing": 24.5, "resolve": {"scale": {"color": "independent"}, "legend": {"color": "independent"}}}
], "spacing": -63.2, "resolve": {"scale": {"color": "independent"}, "legend": {"color": "independent"}}},
{"hconcat": [
{"width": 507, "height": 267,
 "title": {"text": "(c)  SNR = 10 dB, INR = 10 dB", "orient": "bottom", "anchor": "middle", "frame": "bounds", "offset": 3},
 "layer": [
  {"data": {"name": "c"}, "mark": {"type": "line", "strokeWidth": 1.1},
   "encoding": {
    "x": {"field": "x", "type": "quantitative", "scale": {"domain": [-100, 100], "nice": false}, "axis": {"values": [-100,-80,-60,-40,-20,0,20,40,60,80,100], "grid": true, "title": "Degree (°)", "labelPadding": 9, "titlePadding": 14, "labelFlush": false, "labelOverlap": false}},
    "y": {"field": "y", "type": "quantitative", "scale": {"domain": [-100, 0], "nice": false}, "axis": {"values": [0,-10,-20,-30,-40,-50,-60,-70,-80,-90,-100], "grid": true, "title": "Normalized amplitude (dB)", "titleFontSize": 23, "labelPadding": 14, "titlePadding": 2, "labelOverlap": false}},
    "color": {"datum": "Algorithm based on CS of 30 elements", "scale": {"domain": ["Algorithm based on CS of 30 elements", "Full array with 100 elements"], "range": ["#ee2a2c", "#3b4ea2"]},
     "legend": {"title": null, "orient": "bottom", "direction": "vertical", "offset": 32, "labelLimit": 600, "labelFontSize": 21, "labelFont": "Liberation Serif", "labelColor": "#111", "symbolSize": 784, "rowPadding": 1, "labelOffset": 17, "padding": 0,
      "encode": {"symbols": {"update": {"shape": {"signal": "datum.value === 'Full array with 100 elements' ? 'M-1.2,0H1.2' : 'M-1.2,0H-0.27M0.27,0H1.2M0.27,0A0.27,0.27,0,1,1,-0.27,0A0.27,0.27,0,1,1,0.27,0'"}, "fill": {"value": "white"}, "strokeWidth": {"value": 1.3}}}}}}}},
  {"data": {"name": "c"}, "mark": {"type": "point", "filled": false, "size": 22, "strokeWidth": 1, "opacity": 0.8},
   "encoding": {"x": {"field": "x", "type": "quantitative", "axis": null}, "y": {"field": "y", "type": "quantitative", "axis": null}, "color": {"datum": "Algorithm based on CS of 30 elements"}}},
  {"data": {"name": "c"}, "mark": {"type": "line", "strokeWidth": 1.5},
   "encoding": {"x": {"field": "x", "type": "quantitative", "axis": {"orient": "top", "values": [-100,-80,-60,-40,-20,0,20,40,60,80,100], "labels": false, "title": null, "grid": false}}, "y": {"field": "y", "type": "quantitative", "axis": {"orient": "right", "values": [0,-10,-20,-30,-40,-50,-60,-70,-80,-90,-100], "labels": false, "title": null, "grid": false}}, "color": {"datum": "Full array with 100 elements"}}}
 ],
 "resolve": {"axis": {"x": "independent", "y": "independent"}}},
{"width": 527, "height": 277,
 "title": {"text": "(d)  SNR = 10 dB, INR = 40 dB", "orient": "bottom", "anchor": "middle", "frame": "bounds", "offset": 5},
 "layer": [
  {"data": {"name": "d"}, "mark": {"type": "line", "strokeWidth": 1.1},
   "encoding": {
    "x": {"field": "x", "type": "quantitative", "scale": {"domain": [-100, 100], "nice": false}, "axis": {"values": [-100,-80,-60,-40,-20,0,20,40,60,80,100], "grid": true, "title": "Degree (°)", "labelPadding": 9, "titlePadding": 14, "labelFlush": false, "labelOverlap": false}},
    "y": {"field": "y", "type": "quantitative", "scale": {"domain": [-100, 0], "nice": false}, "axis": {"values": [0,-10,-20,-30,-40,-50,-60,-70,-80,-90,-100], "grid": true, "title": "Normalized amplitude (dB)", "titleFontSize": 23, "labelPadding": 14, "titlePadding": 14.5, "labelOverlap": false}},
    "color": {"datum": "Algorithm based on CS of 30 elements", "scale": {"domain": ["Algorithm based on CS of 30 elements", "Full array with 100 elements"], "range": ["#ee2a2c", "#3b4ea2"]},
     "legend": {"title": null, "orient": "bottom", "direction": "vertical", "offset": 27, "labelLimit": 600, "labelFontSize": 21, "labelFont": "Liberation Serif", "labelColor": "#111", "symbolSize": 784, "rowPadding": 1, "labelOffset": 17, "padding": 0,
      "encode": {"symbols": {"update": {"shape": {"signal": "datum.value === 'Full array with 100 elements' ? 'M-1.2,0H1.2' : 'M-1.2,0H-0.27M0.27,0H1.2M0.27,0A0.27,0.27,0,1,1,-0.27,0A0.27,0.27,0,1,1,0.27,0'"}, "fill": {"value": "white"}, "strokeWidth": {"value": 1.3}}}}}}}},
  {"data": {"name": "d"}, "mark": {"type": "point", "filled": false, "size": 22, "strokeWidth": 1, "opacity": 0.8},
   "encoding": {"x": {"field": "x", "type": "quantitative", "axis": null}, "y": {"field": "y", "type": "quantitative", "axis": null}, "color": {"datum": "Algorithm based on CS of 30 elements"}}},
  {"data": {"name": "d"}, "mark": {"type": "line", "strokeWidth": 1.5},
   "encoding": {"x": {"field": "x", "type": "quantitative", "axis": {"orient": "top", "values": [-100,-80,-60,-40,-20,0,20,40,60,80,100], "labels": false, "title": null, "grid": false}}, "y": {"field": "y", "type": "quantitative", "axis": {"orient": "right", "values": [0,-10,-20,-30,-40,-50,-60,-70,-80,-90,-100], "labels": false, "title": null, "grid": false}}, "color": {"datum": "Full array with 100 elements"}}}
 ],
 "resolve": {"axis": {"x": "independent", "y": "independent"}}}
], "spacing": 21, "center": true, "resolve": {"scale": {"color": "independent"}, "legend": {"color": "independent"}}}
],
"spacing": 15,
"resolve": {"scale": {"color": "independent"}, "legend": {"color": "independent"}},
"config": {
 "font": "Liberation Serif",
 "view": {"stroke": "black", "strokeWidth": 1.5},
 "axis": {"labelFont": "Liberation Serif", "titleFont": "Liberation Serif", "labelFontSize": 19.5, "titleFontSize": 21, "titleFontWeight": "normal", "labelColor": "#111", "titleColor": "#111", "domainColor": "black", "domainWidth": 1.5, "tickColor": "black", "tickSize": -5, "tickWidth": 1, "gridColor": "#555", "gridDash": [2, 10], "gridWidth": 1, "gridOpacity": 0.9},
 "title": {"font": "Liberation Serif", "fontSize": 21, "fontWeight": "normal", "color": "#111"}
}
}
